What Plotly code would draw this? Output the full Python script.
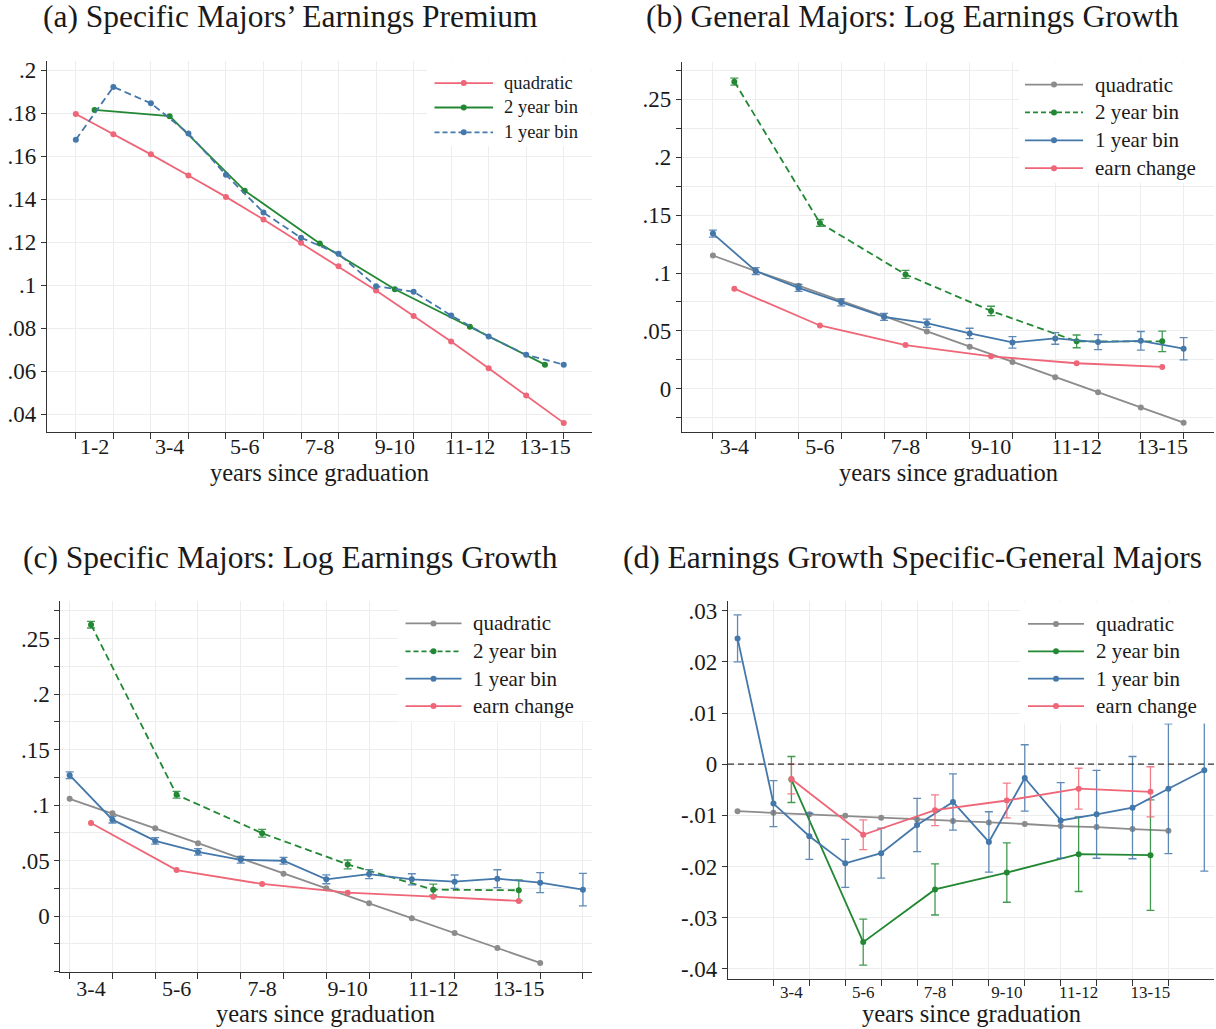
import plotly.graph_objects as go

FONT = "Liberation Serif"
TXT = "#1a1a1a"
RED = "#EE6677"
GREEN = "#228833"
BLUE = "#4477AA"
GRAY = "#8C8C8C"
GRID = "#EDEDED"
AXIS = "#333333"

W, H = 1216, 1029

# ---------------- data ----------------
bin_labels = ["1-2", "3-4", "5-6", "7-8", "9-10", "11-12", "13-15"]
bin_mid_a = [1.5, 3.5, 5.5, 7.5, 9.5, 11.5, 13.5]
bin_labels_bcd = ["3-4", "5-6", "7-8", "9-10", "11-12", "13-15"]
bin_mid_bcd = [3.5, 5.5, 7.5, 9.5, 11.5, 13.5]

# (a) Specific Majors' Earnings Premium
a_years = list(range(1, 15))
a_quadratic = [0.1797, 0.1703, 0.1609, 0.1511, 0.1411, 0.1306, 0.1197,
               0.1088, 0.0975, 0.0857, 0.0738, 0.0613, 0.0487, 0.0359]
a_bin2 = [0.1816, 0.1787, 0.1440, 0.1194, 0.0981, 0.0806, 0.0630]
a_bin1 = [0.1677, 0.1923, 0.1847, 0.1706, 0.1514, 0.1338, 0.1221,
          0.1146, 0.0995, 0.0970, 0.0859, 0.0761, 0.0676, 0.0630]
a_yticks = [0.04, 0.06, 0.08, 0.10, 0.12, 0.14, 0.16, 0.18, 0.20]
a_ytext = [".04", ".06", ".08", ".1", ".12", ".14", ".16", ".18", ".2"]

# (b) General Majors: Log Earnings Growth
b_years = list(range(3, 15))
b_quadratic = [0.1151, 0.1017, 0.0891, 0.0759, 0.0627, 0.0495, 0.0364,
               0.0232, 0.0100, -0.0029, -0.0160, -0.0292]
b_bin2 = [0.2652, 0.1432, 0.0988, 0.0673, 0.0410, 0.0410]
b_bin2_err = [0.003, 0.003, 0.0035, 0.004, 0.0055, 0.0089]
b_bin1 = [0.1340, 0.1017, 0.0871, 0.0747, 0.0621, 0.0567, 0.0478,
          0.0401, 0.0435, 0.0404, 0.0415, 0.0347]
b_bin1_err = [0.003, 0.003, 0.003, 0.003, 0.003, 0.0035, 0.0045,
              0.005, 0.005, 0.0065, 0.008, 0.0096]
b_earn = [0.0865, 0.0547, 0.0378, 0.0281, 0.0221, 0.0189]

# (c) Specific Majors: Log Earnings Growth
c_years_q = list(range(3, 15))
c_years = list(range(3, 16))
c_quadratic = [0.1057, 0.0926, 0.0792, 0.0657, 0.0520, 0.0382, 0.0251,
               0.0116, -0.0018, -0.0152, -0.0287, -0.0421]
c_bin2 = [0.2625, 0.1093, 0.0747, 0.0466, 0.0239, 0.0233]
c_bin2_err = [0.003, 0.003, 0.0035, 0.004, 0.005, 0.0093]
c_bin1 = [0.1269, 0.0869, 0.0678, 0.0579, 0.0508, 0.0499, 0.0332,
          0.0379, 0.0332, 0.0311, 0.0338, 0.0302, 0.0239]
c_bin1_err = [0.003, 0.003, 0.003, 0.003, 0.003, 0.003, 0.004,
              0.004, 0.005, 0.006, 0.008, 0.009, 0.0146]
c_earn = [0.0839, 0.0415, 0.0290, 0.0212, 0.0176, 0.0137]

bc_yticks = [0.0, 0.05, 0.10, 0.15, 0.20, 0.25]
bc_ytext = ["0", ".05", ".1", ".15", ".2", ".25"]

# (d) Earnings Growth Specific-General Majors
d_years_q = list(range(2, 15))
d_years = list(range(2, 16))
d_quadratic = [-0.0092, -0.0095, -0.0098, -0.0101, -0.0105, -0.0108, -0.0111,
               -0.0114, -0.0117, -0.0121, -0.0123, -0.0127, -0.0130]
d_bin2 = [-0.0030, -0.0348, -0.0245, -0.0212, -0.0176, -0.0178]
d_bin2_err = [0.0045, 0.0045, 0.005, 0.0058, 0.0073, 0.0108]
d_bin1 = [0.0246, -0.0077, -0.0141, -0.0194, -0.0174, -0.0119, -0.0074,
          -0.0152, -0.0027, -0.0110, -0.0098, -0.0085, -0.0048, -0.0012]
d_bin1_err = [0.0046, 0.0045, 0.0045, 0.0047, 0.0049, 0.0052, 0.0055,
              0.0059, 0.0065, 0.0074, 0.0086, 0.0100, 0.0127, 0.0197]
d_earn = [-0.0029, -0.0138, -0.0090, -0.0071, -0.0048, -0.0054]
d_earn_err = [0.0029, 0.0029, 0.003, 0.0034, 0.004, 0.0049]
d_yticks = [-0.04, -0.03, -0.02, -0.01, 0.0, 0.01, 0.02, 0.03]
d_ytext = ["-.04", "-.03", "-.02", "-.01", "0", ".01", ".02", ".03"]

titles = ["(a) Specific Majors\u2019 Earnings Premium",
          "(b) General Majors: Log Earnings Growth",
          "(c) Specific Majors: Log Earnings Growth",
          "(d) Earnings Growth Specific-General Majors"]
xtitle = "years since graduation"

# ---------------- helpers ----------------
fig = go.Figure()
DASH = "7px,4px"


def rgba(hexc, a):
    h = hexc.lstrip("#")
    return "rgba(%d,%d,%d,%.2f)" % (int(h[0:2], 16), int(h[2:4], 16), int(h[4:6], 16), a)


def add(x, y, name, color, ax, dash="solid", err=None):
    kw = {}
    if err is not None:
        kw["error_y"] = dict(type="data", array=err, visible=True,
                             color=rgba(color, 0.85), thickness=1.3, width=4)
    fig.add_trace(go.Scatter(
        x=x, y=y, name=name, mode="lines+markers", showlegend=False,
        line=dict(color=color, width=1.8, dash=dash),
        marker=dict(color=color, size=6),
        xaxis="x" + ax, yaxis="y" + ax, **kw))


# (a)
add(a_years, a_quadratic, "quadratic", RED, "")
add(bin_mid_a, a_bin2, "2 year bin", GREEN, "")
add(a_years, a_bin1, "1 year bin", BLUE, "", dash=DASH)
# (b)
add(b_years, b_quadratic, "quadratic", GRAY, "2")
add(bin_mid_bcd, b_bin2, "2 year bin", GREEN, "2", dash=DASH, err=b_bin2_err)
add(b_years, b_bin1, "1 year bin", BLUE, "2", err=b_bin1_err)
add(bin_mid_bcd, b_earn, "earn change", RED, "2")
# (c)
add(c_years_q, c_quadratic, "quadratic", GRAY, "3")
add(bin_mid_bcd, c_bin2, "2 year bin", GREEN, "3", dash=DASH, err=c_bin2_err)
add(c_years, c_bin1, "1 year bin", BLUE, "3", err=c_bin1_err)
add(bin_mid_bcd, c_earn, "earn change", RED, "3")
# (d)
add(d_years_q, d_quadratic, "quadratic", GRAY, "4")
add(bin_mid_bcd, d_bin2, "2 year bin", GREEN, "4", err=d_bin2_err)
add(d_years, d_bin1, "1 year bin", BLUE, "4", err=d_bin1_err)
add(bin_mid_bcd, d_earn, "earn change", RED, "4", err=d_earn_err)


def px_dom_x(l, r):
    return [l / W, r / W]


def px_dom_y(top, bottom):
    return [1 - bottom / H, 1 - top / H]


def xaxis(dom, rng, anchor, tickvals, ticktext, minor_vals, tsize, standoff):
    return dict(domain=dom, range=rng, anchor=anchor,
                tickmode="array", tickvals=tickvals, ticktext=ticktext,
                ticks="outside", ticklen=3, tickcolor="rgba(0,0,0,0)",
                ticklabelstandoff=standoff,
                showgrid=False, zeroline=False,
                showline=True, linecolor=AXIS, linewidth=1.2,
                tickfont=dict(family=FONT, size=tsize, color=TXT),
                minor=dict(tickmode="array", tickvals=minor_vals, ticks="outside",
                           ticklen=6, tickwidth=1, tickcolor=AXIS,
                           showgrid=True, gridcolor=GRID, gridwidth=1))


def yaxis(dom, rng, anchor, tickvals, ticktext, minor_dtick=None):
    d = dict(domain=dom, range=rng, anchor=anchor,
             tickmode="array", tickvals=tickvals, ticktext=ticktext,
             ticks="outside", ticklen=5, tickwidth=1, tickcolor=AXIS,
             showgrid=True, gridcolor=GRID, gridwidth=1, zeroline=False,
             showline=True, linecolor=AXIS, linewidth=1.2,
             tickfont=dict(family=FONT, size=23, color=TXT))
    if minor_dtick:
        d["minor"] = dict(tickmode="linear", tick0=0, dtick=minor_dtick, ticks="outside",
                          ticklen=5, tickwidth=1, tickcolor=AXIS,
                          showgrid=True, gridcolor=GRID, gridwidth=1)
    return d


layout = dict(
    width=W, height=H, margin=dict(l=0, r=0, t=0, b=0),
    paper_bgcolor="white", plot_bgcolor="white",
    font=dict(family=FONT, color=TXT), showlegend=False,
    xaxis=xaxis(px_dom_x(47, 591.5), [0.232, 14.74], "y", bin_mid_a, bin_labels,
                list(range(1, 15)), 22, -8),
    yaxis=yaxis(px_dom_y(59, 432), [0.0317, 0.2045], "x", a_yticks, a_ytext),
    xaxis2=xaxis(px_dom_x(682, 1214), [2.277, 14.71], "y2", bin_mid_bcd, bin_labels_bcd,
                 list(range(3, 15)), 22, -8),
    yaxis2=yaxis(px_dom_y(60, 431.7), [-0.0369, 0.2824], "x2", bc_yticks, bc_ytext, 0.025),
    xaxis3=xaxis(px_dom_x(60.4, 591.5), [2.784, 15.2], "y3", bin_mid_bcd, bin_labels_bcd,
                 list(range(3, 16)), 22, -7),
    yaxis3=yaxis(px_dom_y(601.7, 975), [-0.0505, 0.284], "x3", bc_yticks, bc_ytext, 0.025),
    xaxis4=xaxis(px_dom_x(728, 1214), [1.734, 15.27], "y4", bin_mid_bcd, bin_labels_bcd,
                 list(range(3, 15)), 17, -5),
    yaxis4=yaxis(px_dom_y(602, 981.7), [-0.042, 0.0319], "x4", d_yticks, d_ytext),
)
fig.update_layout(**layout)

# zero reference line in (d)
fig.add_shape(type="line", xref="x4 domain", yref="y4", x0=0, x1=1, y0=0, y1=0,
              line=dict(color="#333333", width=1.3, dash="6px,4px"), layer="above")

# ---------------- legends (drawn as overlay keys) ----------------
leg_ab = [("quadratic", RED, "solid"), ("2 year bin", GREEN, "solid"),
          ("1 year bin", BLUE, "5px,3px")]
leg_b = [("quadratic", GRAY, "solid"), ("2 year bin", GREEN, "5px,3px"),
         ("1 year bin", BLUE, "solid"), ("earn change", RED, "solid")]
leg_c = leg_b
leg_d = [("quadratic", GRAY, "solid"), ("2 year bin", GREEN, "solid"),
         ("1 year bin", BLUE, "solid"), ("earn change", RED, "solid")]

legend_specs = [
    # entries, line x0, line x1, text x, rows y, font size, box (l, t, r, b)
    (leg_ab, 434.5, 493, 502, [81.5, 106, 131], 18.5, (427, 60, 591, 145)),
    (leg_b, 1025, 1083, 1093, [83, 111, 139, 167], 21, (1019, 61, 1214, 182)),
    (leg_c, 405.5, 461.5, 471, [624.5, 652.5, 680, 707.5], 21, (398, 602.5, 591.5, 723)),
    (leg_d, 1028, 1084, 1093.5, [625, 652.5, 680, 707.5], 21, (1020.5, 603, 1214, 725)),
]

for entries, lx0, lx1, tx, rows, fsize, box in legend_specs:
    fig.add_shape(type="rect", xref="paper", yref="paper",
                  x0=box[0] / W, x1=box[2] / W, y0=1 - box[3] / H, y1=1 - box[1] / H,
                  fillcolor="white", line=dict(width=0), layer="above")
    for (name, color, dash), ry in zip(entries, rows):
        fig.add_shape(type="line", xref="paper", yref="paper",
                      x0=lx0 / W, x1=lx1 / W, y0=1 - ry / H, y1=1 - ry / H,
                      line=dict(color=color, width=1.8, dash=dash), layer="above")
        fig.add_shape(type="circle", xref="paper", yref="paper",
                      xsizemode="pixel", ysizemode="pixel",
                      xanchor=(lx0 + lx1) / 2 / W, yanchor=1 - ry / H,
                      x0=-3, x1=3, y0=-3, y1=3,
                      fillcolor=color, line=dict(width=0), layer="above")
        fig.add_annotation(text=name, xref="paper", yref="paper", x=tx / W, y=1 - ry / H,
                           xanchor="left", yanchor="middle", showarrow=False,
                           font=dict(family=FONT, size=fsize, color=TXT))

# panel titles
title_pos = [(290, 15), (912, 15), (290, 558), (912, 558)]
for t, (cx, cy) in zip(titles, title_pos):
    fig.add_annotation(text=t, xref="paper", yref="paper", x=cx / W, y=1 - cy / H,
                       xanchor="center", yanchor="middle", showarrow=False,
                       font=dict(family=FONT, size=31.5, color=TXT))

# x-axis titles
for ax, cy in [("x", 473), ("x2", 473), ("x3", 1016), ("x4", 1016)]:
    fig.add_annotation(text=xtitle, xref=ax + " domain", yref="paper", x=0.5, y=1 - cy / H,
                       xanchor="center", yanchor="middle", showarrow=False,
                       font=dict(family=FONT, size=24.5, color=TXT))

fig.write_html("out.html", config={"displayModeBar": False},
               post_script="document.body.style.margin='0';document.body.style.overflow='hidden';")
